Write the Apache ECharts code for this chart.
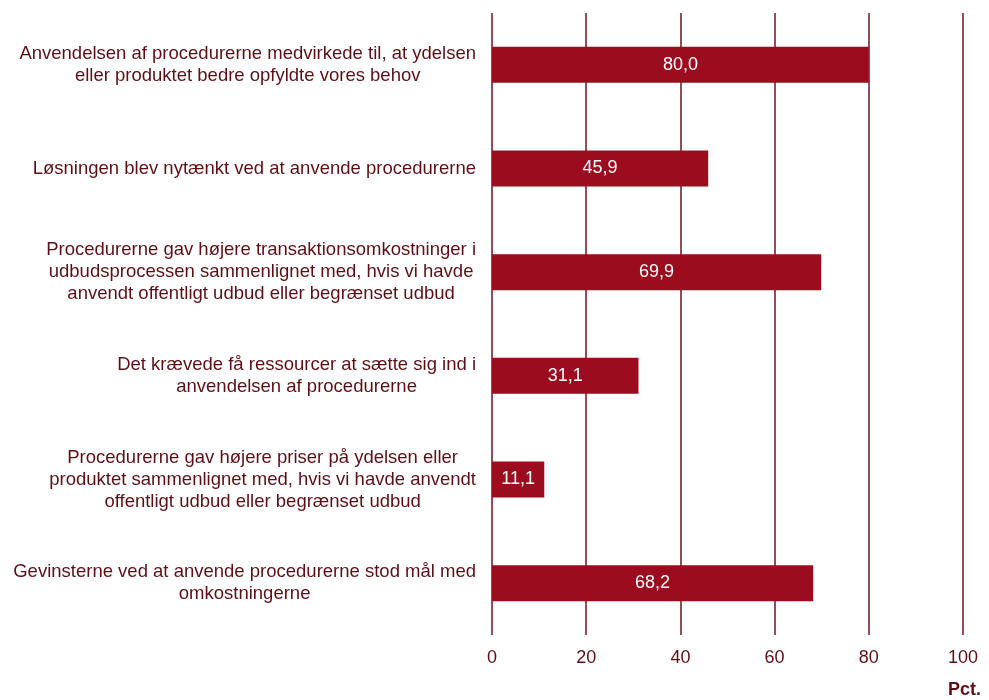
<!DOCTYPE html>
<html>
<head>
<meta charset="utf-8">
<script src="https://cdn.jsdelivr.net/npm/echarts@6/dist/echarts.min.js"></script>
<style>
  html, body { margin: 0; padding: 0; background: #fff; }
  #chart { width: 989px; height: 700px; }
</style>
</head>
<body>
<div id="chart"></div>
<script>
// categories (top to bottom), lines split as in the original
const categories = [
  'Anvendelsen af procedurerne medvirkede til, at ydelsen\neller produktet bedre opfyldte vores behov',
  'Løsningen blev nytænkt ved at anvende procedurerne',
  'Procedurerne gav højere transaktionsomkostninger i\nudbudsprocessen sammenlignet med, hvis vi havde\nanvendt offentligt udbud eller begrænset udbud',
  'Det krævede få ressourcer at sætte sig ind i\nanvendelsen af procedurerne',
  'Procedurerne gav højere priser på ydelsen eller\nproduktet sammenlignet med, hvis vi havde anvendt\noffentligt udbud eller begrænset udbud',
  'Gevinsterne ved at anvende procedurerne stod mål med\nomkostningerne'
]
const values = [80.0, 45.9, 69.9, 31.1, 11.1, 68.2]
const xTicks = [0, 20, 40, 60, 80, 100]

const textColor = '#5e0f16'
const lineColor = '#6e1220'
const barColor = '#9c0c1f'
const font = 'Liberation Sans, Arial, sans-serif'

const chart = echarts.init(document.getElementById('chart'))
chart.setOption({
  animation: false,
  textStyle: { fontFamily: font },
  title: {
    text: 'Pct.',
    right: 3,
    bottom: -4,
    textStyle: { fontSize: 18, fontWeight: 'bold', color: textColor, fontFamily: font }
  },
  grid: { left: 492, right: 26, top: 13, bottom: 65 },
  xAxis: {
    type: 'value',
    min: xTicks[0],
    max: xTicks[xTicks.length - 1],
    interval: 20,
    axisLine: { show: false },
    axisTick: { show: false },
    axisLabel: { fontSize: 18, color: textColor, margin: 14 },
    splitLine: { show: true, lineStyle: { color: lineColor, width: 1.5 } }
  },
  yAxis: {
    type: 'category',
    inverse: true,
    data: categories,
    axisLine: { show: false },
    axisTick: { show: false },
    axisLabel: {
      margin: 16,
      color: textColor,
      fontSize: 18.5,
      lineHeight: 22,
      formatter: function (v) {
        return v.split('\n').map(function (l) { return '{c|' + l + '}' }).join('\n')
      },
      rich: { c: { align: 'center', fontSize: 18.5, lineHeight: 22, color: textColor } }
    }
  },
  series: [{
    type: 'bar',
    data: values,
    barWidth: 36,
    itemStyle: { color: barColor },
    label: {
      show: true,
      position: 'inside',
      color: '#fff',
      fontSize: 18,
      formatter: function (p) { return p.value.toFixed(1).replace('.', ',') }
    }
  }]
})
</script>
</body>
</html>
